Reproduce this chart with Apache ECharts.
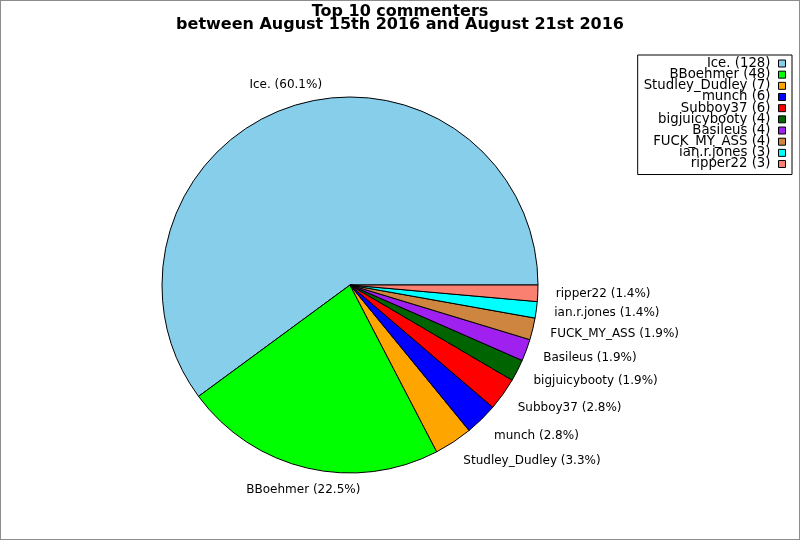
<!DOCTYPE html>
<html>
<head>
<meta charset="utf-8">
<script src="https://cdn.jsdelivr.net/npm/echarts@6/dist/echarts.min.js"></script>
<style>
html,body{margin:0;padding:0;background:#fff;}
#chart{width:800px;height:540px;}
</style>
</head>
<body>
<div id="chart"></div>
<script>
var names = ['Ice.', 'BBoehmer', 'Studley_Dudley', 'munch', 'Subboy37', 'bigjuicybooty', 'Basileus', 'FUCK_MY_ASS', 'ian.r.jones', 'ripper22'];
var counts = [128, 48, 7, 6, 6, 4, 4, 4, 3, 3];
var colors = ['#87CEEB', '#00FF00', '#FFA500', '#0000FF', '#FF0000', '#006400', '#A020F0', '#CD853F', '#00FFFF', '#FA8072'];
var titleLines = ['Top 10 commenters', 'between August 15th 2016 and August 21st 2016'];

var total = counts.reduce(function (a, b) { return a + b; }, 0);
var midAngles = [];
var cum = 0;
counts.forEach(function (v) { midAngles.push((cum + v / 2) / total * 360); cum += v; });

var data = names.map(function (n, i) {
  return { name: n, value: counts[i], itemStyle: { color: colors[i] } };
});
var countByName = {};
names.forEach(function (n, i) { countByName[n] = counts[i]; });

var chart = echarts.init(document.getElementById('chart'), null, { renderer: 'canvas' });
chart.setOption({
  animation: false,
  backgroundColor: '#fff',
  textStyle: { fontFamily: 'DejaVu Sans' },
  title: {
    text: titleLines.join('\n'),
    left: 'center',
    top: 6,
    padding: 0,
    textStyle: { fontFamily: 'DejaVu Sans', fontSize: 16, fontWeight: 'bold', lineHeight: 12.5, color: '#000' }
  },
  graphic: [{
    type: 'rect',
    shape: { x: 0, y: 0, width: 800, height: 540 },
    style: { fill: 'none', stroke: '#8c8c8c', lineWidth: 2 },
    silent: true,
    z: 100
  }],
  legend: {
    orient: 'vertical',
    align: 'right',
    right: 8,
    top: 55,
    padding: [2, 6, 4, 6],
    itemGap: -1.83,
    itemWidth: 7,
    itemHeight: 7,
    icon: 'rect',
    borderColor: '#000',
    borderWidth: 1,
    borderRadius: 0,
    backgroundColor: '#fff',
    itemStyle: { borderColor: '#000', borderWidth: 1 },
    textStyle: { fontFamily: 'DejaVu Sans', fontSize: 13.3, lineHeight: 11, color: '#000', padding: [0, 3, 0, 0] },
    formatter: function (n) { return n + ' (' + countByName[n] + ')'; },
    selectedMode: false
  },
  series: [{
    type: 'pie',
    center: [350, 285],
    radius: 188,
    startAngle: 0,
    clockwise: false,
    avoidLabelOverlap: false,
    minShowLabelAngle: 0,
    itemStyle: { borderColor: '#000', borderWidth: 1 },
    emphasis: { disabled: true },
    label: {
      show: true,
      position: 'outside',
      fontFamily: 'DejaVu Sans',
      fontSize: 12,
      color: '#000',
      distanceToLabelLine: 0,
      formatter: function (p) { return p.name + ' (' + (p.value / total * 100).toFixed(1) + '%)'; }
    },
    labelLine: { show: false, length: 18, length2: 0 },
    labelLayout: function (p) {
      var a = midAngles[p.dataIndex] * Math.PI / 180;
      var sDown = -Math.sin(a);
      var c = Math.cos(a);
      var res = { dy: sDown * p.labelRect.height * 0.4 };
      if (c < 0) { res.dx = p.labelRect.width / 2; }
      return res;
    },
    data: data
  }]
});
</script>
</body>
</html>
